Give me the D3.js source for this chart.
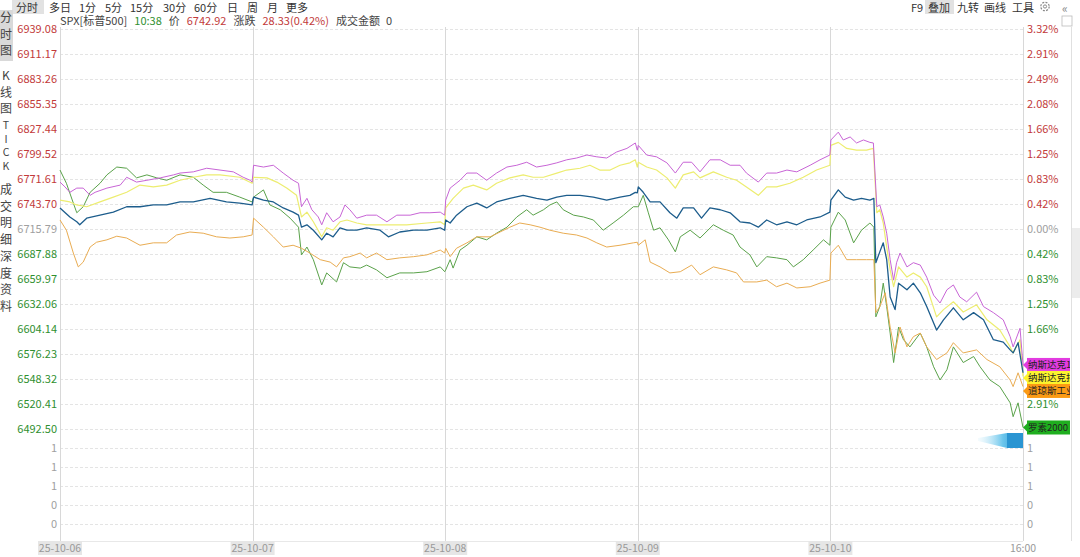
<!DOCTYPE html>
<html><head><meta charset="utf-8">
<script src="https://cdn.jsdelivr.net/npm/d3@7"></script>
<style>
html,body{margin:0;padding:0;background:#fff;}
svg{display:block;font-family:"Noto Sans CJK SC","Noto Sans",sans-serif;}
</style></head><body>
<svg id="c" width="1080" height="557"></svg>
<script>
// ---------- data ----------
const basePrice = 6715.79;
const priceTicks = [6939.08,6911.17,6883.26,6855.35,6827.44,6799.52,6771.61,6743.70,6715.79,6687.88,6659.97,6632.06,6604.14,6576.23,6548.32,6520.41,6492.50];
const pctTicks = ["3.32%","2.91%","2.49%","2.08%","1.66%","1.25%","0.83%","0.42%","0.00%","0.42%","0.83%","1.25%","1.66%","2.08%","2.49%","2.91%","3.32%"];
const volTicks = ["1","1","1","0","0"];
const dayLabels = ["25-10-06","25-10-07","25-10-08","25-10-09","25-10-10","16:00"];
const dayMinutes = [0,390,780,1170,1560,1950];
const periodTabs = ["分时","多日","1分","5分","15分","30分","60分","日","周","月","更多"];
const sideTabs = [["分","时","图"],["K","线","图"],["T","I","C","K"],["成","交","明","细"],["深","度","资","料"]];
const toolTabs = ["F9","叠加","九转","画线","工具"];
const infoTexts = ["SPX[标普500]","10:38","价","6742.92","涨跌","28.33(0.42%)","成交金额","0"];
const seriesNames = ["纳斯达克100","纳斯达克指数","标普500","罗素2000","道琼斯工业"];

// [minute since first open, % change]
const nasdaq100 = [[0,0.78],[10,0.70],[20,0.61],[34,0.68],[47,0.68],[61,0.56],[71,0.61],[95,0.68],[122,0.73],[135,0.86],[155,0.78],[176,0.81],[203,0.85],[230,0.90],[243,0.93],[270,0.95],[297,1.01],[324,0.98],[351,0.95],[371,0.86],[385,0.81],[389,0.78],
[392,1.06],[412,1.03],[432,1.06],[452,0.93],[472,0.81],[483,0.76],[489,0.37],[500,0.51],[510,0.32],[523,0.20],[530,0.07],[540,0.27],[553,0.12],[567,0.20],[577,0.40],[587,0.32],[601,0.18],[621,0.23],[641,0.23],[662,0.12],[682,0.23],[709,0.23],[729,0.27],[749,0.27],[770,0.28],[779,0.23],
[781,0.48],[790,0.68],[810,0.81],[824,0.93],[844,0.93],[864,0.81],[884,0.93],[905,1.03],[925,1.06],[945,1.11],[965,1.03],[986,1.06],[1006,1.10],[1026,1.15],[1046,1.18],[1067,1.23],[1087,1.20],[1107,1.18],[1127,1.28],[1148,1.34],[1165,1.43],[1169,1.31],
[1171,1.39],[1188,1.23],[1208,1.20],[1229,1.10],[1246,0.93],[1262,1.11],[1279,1.11],[1296,0.95],[1316,1.15],[1337,1.15],[1357,1.06],[1377,1.06],[1390,0.93],[1414,0.78],[1431,0.93],[1451,0.93],[1472,0.98],[1492,0.95],[1519,1.06],[1539,1.15],[1559,1.23],
[1561,1.48],[1576,1.61],[1586,1.48],[1600,1.53],[1613,1.43],[1627,1.48],[1640,1.44],[1647,1.43],[1650,0.98],[1654,0.37],[1660,0.40],[1667,0.20],[1674,-0.07],[1681,-0.51],[1688,-0.85],[1694,-0.56],[1701,-0.40],[1715,-0.63],[1728,-0.56],[1742,-0.60],[1755,-0.80],[1769,-1.10],[1782,-1.23],[1796,-1.01],[1809,-0.93],[1822,-1.13],[1836,-1.21],[1856,-1.05],[1870,-1.29],[1890,-1.39],[1910,-1.51],[1924,-1.79],[1930,-1.96],[1944,-1.65],[1950,-2.26]];

const nasdaqComp = [[0,0.48],[20,0.45],[34,0.40],[54,0.37],[81,0.45],[108,0.53],[135,0.61],[162,0.73],[189,0.70],[216,0.73],[243,0.81],[270,0.86],[297,0.90],[324,0.90],[364,0.86],[389,0.76],
[392,0.86],[419,0.85],[439,0.78],[459,0.68],[479,0.56],[489,0.20],[500,0.28],[513,0.12],[530,-0.13],[540,0.02],[553,-0.02],[567,0.12],[581,0.15],[601,0.10],[621,0.07],[648,0.07],[668,0.07],[702,0.07],[743,0.10],[770,0.12],[779,0.07],
[781,0.35],[796,0.51],[817,0.68],[837,0.73],[864,0.65],[884,0.76],[911,0.85],[938,0.90],[958,0.86],[979,0.86],[1006,0.93],[1026,0.98],[1053,1.01],[1073,1.06],[1093,0.98],[1114,0.98],[1134,1.06],[1154,1.10],[1165,1.15],[1169,1.03],
[1171,1.11],[1188,1.03],[1208,0.98],[1229,0.85],[1246,0.68],[1262,0.90],[1283,0.95],[1296,0.85],[1323,0.95],[1350,0.86],[1370,0.81],[1390,0.70],[1414,0.56],[1431,0.70],[1451,0.70],[1478,0.76],[1505,0.86],[1532,0.98],[1559,1.06],
[1561,1.39],[1576,1.44],[1593,1.34],[1613,1.31],[1633,1.31],[1647,1.34],[1650,0.86],[1654,0.27],[1660,0.32],[1667,0.10],[1674,-0.30],[1681,-0.68],[1688,-0.96],[1698,-0.63],[1715,-0.80],[1728,-0.73],[1742,-0.80],[1755,-0.96],[1775,-1.46],[1789,-1.34],[1809,-1.21],[1829,-1.38],[1856,-1.26],[1877,-1.51],[1903,-1.68],[1924,-1.96],[1930,-2.06],[1944,-1.84],[1950,-2.45]];

const spx = [[0,0.35],[20,0.20],[34,0.12],[40,0.07],[54,0.18],[81,0.23],[108,0.28],[135,0.37],[162,0.37],[189,0.40],[216,0.40],[243,0.45],[270,0.45],[304,0.51],[337,0.45],[364,0.43],[389,0.40],
[392,0.53],[412,0.48],[432,0.45],[452,0.35],[472,0.28],[483,0.23],[489,0.03],[500,0.07],[513,-0.02],[530,-0.18],[540,-0.07],[553,-0.13],[567,0.02],[581,-0.02],[601,-0.02],[621,0.02],[648,-0.02],[665,-0.13],[688,-0.05],[716,-0.02],[743,-0.02],[770,0.02],[779,-0.02],
[781,0.15],[790,0.10],[803,0.23],[824,0.37],[844,0.43],[864,0.35],[884,0.45],[911,0.51],[938,0.56],[965,0.51],[986,0.48],[1006,0.53],[1026,0.56],[1053,0.56],[1080,0.53],[1107,0.48],[1134,0.53],[1154,0.56],[1165,0.61],[1169,0.60],
[1171,0.70],[1181,0.61],[1195,0.45],[1215,0.45],[1235,0.27],[1249,0.18],[1262,0.35],[1283,0.35],[1299,0.18],[1316,0.35],[1337,0.32],[1357,0.27],[1377,0.12],[1397,0.10],[1414,0.03],[1431,0.15],[1451,0.07],[1472,0.12],[1492,0.07],[1512,0.15],[1539,0.20],[1559,0.28],
[1561,0.48],[1576,0.65],[1590,0.53],[1607,0.48],[1623,0.51],[1640,0.48],[1648,0.51],[1652,-0.56],[1660,-0.38],[1667,-0.23],[1674,-0.51],[1681,-1.13],[1691,-1.34],[1698,-0.90],[1715,-1.01],[1728,-0.90],[1742,-1.06],[1755,-1.29],[1775,-1.68],[1789,-1.51],[1809,-1.31],[1829,-1.51],[1850,-1.39],[1870,-1.51],[1890,-1.84],[1910,-1.88],[1924,-2.01],[1930,-2.06],[1940,-1.89],[1950,-2.39]];

const russell2000 = [[0,0.98],[13,0.76],[27,0.43],[34,0.27],[47,0.37],[61,0.61],[81,0.76],[95,0.90],[115,1.03],[135,1.01],[155,0.85],[176,0.90],[196,0.85],[216,0.81],[243,0.90],[270,0.86],[290,0.73],[310,0.61],[337,0.61],[364,0.53],[389,0.45],
[392,0.53],[412,0.65],[425,0.40],[446,0.32],[466,0.18],[483,0.03],[489,-0.43],[500,-0.30],[513,-0.51],[530,-0.93],[540,-0.73],[560,-0.88],[574,-0.56],[587,-0.63],[608,-0.65],[621,-0.60],[641,-0.68],[662,-0.81],[688,-0.73],[716,-0.73],[743,-0.71],[770,-0.63],[779,-0.71],
[781,-0.68],[790,-0.51],[796,-0.65],[810,-0.35],[824,-0.27],[844,-0.13],[864,-0.18],[884,-0.07],[905,0.03],[925,0.20],[945,0.32],[958,0.23],[979,0.32],[992,0.40],[1006,0.45],[1019,0.32],[1040,0.23],[1060,0.20],[1080,0.15],[1100,-0.02],[1120,0.10],[1141,0.23],[1161,0.37],[1169,0.37],
[1171,0.37],[1181,0.56],[1191,0.28],[1202,-0.02],[1215,0.02],[1232,-0.18],[1246,-0.38],[1256,-0.13],[1276,-0.02],[1296,-0.15],[1323,0.07],[1343,-0.02],[1363,-0.10],[1377,-0.30],[1397,-0.43],[1411,-0.63],[1431,-0.46],[1451,-0.48],[1472,-0.51],[1485,-0.63],[1505,-0.51],[1525,-0.35],[1546,-0.18],[1559,-0.27],
[1561,0.03],[1576,0.28],[1590,0.15],[1607,-0.23],[1623,-0.02],[1640,0.10],[1648,0.03],[1652,-1.46],[1660,-1.29],[1667,-0.90],[1674,-1.29],[1681,-1.73],[1688,-2.22],[1698,-1.63],[1708,-1.84],[1721,-1.96],[1742,-1.73],[1755,-1.96],[1769,-2.29],[1782,-2.51],[1796,-2.34],[1809,-1.96],[1829,-2.22],[1850,-2.12],[1863,-2.29],[1883,-2.51],[1903,-2.62],[1924,-2.89],[1930,-3.12],[1940,-2.89],[1950,-3.30]];

const dowJones = [[0,0.15],[13,-0.02],[27,-0.40],[37,-0.63],[47,-0.55],[61,-0.30],[74,-0.22],[95,-0.18],[115,-0.12],[135,-0.15],[162,-0.27],[189,-0.23],[216,-0.23],[236,-0.10],[263,-0.05],[290,-0.07],[317,-0.13],[344,-0.15],[371,-0.13],[389,-0.10],
[392,0.18],[412,0.03],[432,-0.13],[452,-0.30],[472,-0.27],[489,-0.32],[506,-0.40],[527,-0.51],[547,-0.55],[560,-0.63],[574,-0.48],[587,-0.46],[608,-0.40],[621,-0.48],[641,-0.40],[662,-0.51],[688,-0.48],[716,-0.46],[743,-0.43],[770,-0.35],[779,-0.40],
[781,-0.32],[790,-0.46],[803,-0.32],[824,-0.23],[844,-0.13],[871,-0.13],[891,-0.05],[911,0.03],[931,0.10],[952,0.07],[972,0.03],[992,-0.02],[1019,-0.07],[1046,-0.10],[1067,-0.15],[1087,-0.23],[1107,-0.30],[1134,-0.27],[1161,-0.23],[1169,-0.22],
[1171,-0.27],[1185,-0.18],[1195,-0.55],[1215,-0.63],[1235,-0.73],[1256,-0.71],[1279,-0.60],[1296,-0.76],[1323,-0.63],[1350,-0.68],[1370,-0.73],[1384,-0.88],[1411,-0.88],[1431,-0.85],[1451,-0.96],[1472,-0.90],[1492,-0.98],[1519,-0.96],[1539,-0.90],[1559,-0.85],
[1561,-0.40],[1576,-0.27],[1593,-0.51],[1613,-0.51],[1633,-0.51],[1648,-0.51],[1652,-1.39],[1660,-1.29],[1671,-1.06],[1681,-1.63],[1691,-2.06],[1701,-1.63],[1715,-1.96],[1728,-1.79],[1742,-1.73],[1755,-1.96],[1775,-2.17],[1796,-2.06],[1809,-1.89],[1829,-2.06],[1856,-2.01],[1877,-2.17],[1903,-2.29],[1924,-2.51],[1930,-2.62],[1940,-2.39],[1950,-2.62]];

// ---------- drawing ----------
const svg = d3.select("#c");
const x = d3.scaleLinear().domain([0,1950]).range([60,1023]);
const pctOf = p => (p/basePrice - 1)*100;
const y = d3.scaleLinear().domain([pctOf(priceTicks[16]), pctOf(priceTicks[0])]).range([429,29]);
const yVol = d3.scaleLinear().domain([0,4]).range([448,524]);
const RED="#c23a3a", GREEN="#2f8f2f", GRAY="#a0a0a0";

// top toolbar
svg.append("rect").attr("x",12).attr("y",0).attr("width",32).attr("height",14).attr("fill","#e2e2e2");
const tabX = [16,49,79,105,130,163,194,227,247,267,286];
svg.selectAll("text.tab").data(periodTabs).join("text").attr("class","tab")
  .attr("x",(d,i)=>tabX[i]).attr("y",11.5).attr("font-size",11).attr("fill","#333").text(d=>d);

svg.append("rect").attr("x",925).attr("y",0).attr("width",29).attr("height",14).attr("fill","#e2e2e2");
const toolX = [911,928,957,984,1012];
svg.selectAll("text.tool").data(toolTabs).join("text").attr("class","tool")
  .attr("x",(d,i)=>toolX[i]).attr("y",11.5).attr("font-size",11).attr("fill","#333").text(d=>d);
// gear
const gear = svg.append("g").attr("transform","translate(1045,6.5)");
gear.append("circle").attr("r",4.2).attr("fill","none").attr("stroke","#888").attr("stroke-width",1.2).attr("stroke-dasharray","2,1.3");
gear.append("circle").attr("r",1.6).attr("fill","none").attr("stroke","#888").attr("stroke-width",1);
svg.append("text").attr("x",1062).attr("y",12.5).attr("font-size",12).attr("fill","#888").text("«");
svg.append("rect").attr("x",1062).attr("y",16).attr("width",10).attr("height",10).attr("fill","none").attr("stroke","#bbb").attr("stroke-width",0.8);

// info line: laid out left to right by measured widths
const infoC = ["#444",GREEN,"#444",RED,"#444",RED,"#444","#444"];
let ix = 60;
infoTexts.forEach((t,i)=>{
  const el = svg.append("text").attr("x",ix).attr("y",25).attr("font-size",11).attr("fill",infoC[i]).text(t);
  ix += el.node().getComputedTextLength() + (i===6?6:7);
});

// side tabs
svg.append("rect").attr("x",0).attr("y",10).attr("width",13).attr("height",51).attr("fill","#d9d9d9");
const sideStart = [22,80,129,194,261];
sideTabs.forEach((chars,g)=>{
  chars.forEach((c,i)=>{
    svg.append("text").attr("x",6).attr("y",sideStart[g]+i*(g===2?13.7:16.7)).attr("text-anchor","middle")
      .attr("font-size",g===2?10.5:12).attr("fill","#444").text(c);
  });
});

// gridlines
const grid = svg.append("g");
priceTicks.forEach(p=>{
  grid.append("line").attr("x1",60).attr("x2",1023).attr("y1",Math.round(y(pctOf(p)))+0.5).attr("y2",Math.round(y(pctOf(p)))+0.5)
    .attr("stroke","#e4e4e4").attr("stroke-dasharray","3,2");
});
volTicks.forEach((v,i)=>{
  grid.append("line").attr("x1",60).attr("x2",1023).attr("y1",Math.round(yVol(i))+0.5).attr("y2",Math.round(yVol(i))+0.5)
    .attr("stroke","#e4e4e4").attr("stroke-dasharray","3,2");
});
grid.append("line").attr("x1",60).attr("x2",1023).attr("y1",541.5).attr("y2",541.5).attr("stroke","#e8e8e8");
dayMinutes.forEach(m=>{
  grid.append("line").attr("x1",Math.round(x(m))+0.5).attr("x2",Math.round(x(m))+0.5).attr("y1",27).attr("y2",541)
    .attr("stroke","#d8d8d8");
});
svg.append("line").attr("x1",1071.5).attr("x2",1071.5).attr("y1",27).attr("y2",541).attr("stroke","#e0e0e0");
svg.append("rect").attr("x",1072).attr("y",228).attr("width",8).attr("height",70).attr("fill","#ececec");

// left axis labels
svg.selectAll("text.lp").data(priceTicks).join("text").attr("class","lp")
  .attr("x",57).attr("y",p=>y(pctOf(p))+4).attr("text-anchor","end").attr("font-size",11)
  .attr("fill",(p,i)=>i<8?RED:(i===8?GRAY:GREEN)).text(p=>p.toFixed(2));
svg.selectAll("text.lv").data(volTicks).join("text").attr("class","lv")
  .attr("x",57).attr("y",(d,i)=>yVol(i)+4).attr("text-anchor","end").attr("font-size",11).attr("fill",GRAY).text(d=>d);

// series
const series = [
  {name:seriesNames[0], data:nasdaq100, color:"#c865d6", w:1, box:"#e23be0"},
  {name:seriesNames[1], data:nasdaqComp, color:"#eded70", w:1.2, box:"#fdf52e"},
  {name:seriesNames[4], data:dowJones, color:"#e9ac52", w:1, box:"#fb9a14"},
  {name:seriesNames[3], data:russell2000, color:"#5aa24a", w:1, box:"#1fae1f"},
  {name:seriesNames[2], data:spx, color:"#1d5d8c", w:1.3, box:null},
];

// end label positions (collision avoidance)
const labeled = series.filter(s=>s.box).map(s=>({s, ly:y(s.data[s.data.length-1][1])}));
labeled.sort((a,b)=>a.ly-b.ly);
for(let i=1;i<labeled.length;i++){ if(labeled[i].ly < labeled[i-1].ly+13) labeled[i].ly = labeled[i-1].ly+13; }
const covered = ty => labeled.some(l=>Math.abs(l.ly-ty)<12);

// right axis labels (those hidden under the end tags are not shown)
pctTicks.forEach((d,i)=>{
  const ty = y(pctOf(priceTicks[i]));
  if(covered(ty)) return;
  svg.append("text").attr("x",1027).attr("y",ty+4).attr("font-size",11)
    .attr("fill",i<8?RED:(i===8?GRAY:GREEN)).text(d);
});
svg.selectAll("text.rv").data(volTicks).join("text").attr("class","rv")
  .attr("x",1027).attr("y",(d,i)=>yVol(i)+4).attr("font-size",11).attr("fill",GRAY).text(d=>d);

// x labels
dayLabels.forEach((d,i)=>{
  const cx = x(dayMinutes[i]);
  if(i<5) svg.append("rect").attr("x",cx-22).attr("y",541).attr("width",44).attr("height",14).attr("fill","#e6e6e6");
  svg.append("text").attr("x",cx).attr("y",552).attr("text-anchor","middle").attr("font-size",10.5).attr("fill","#999").text(d);
});

const line = d3.line().x(d=>x(d[0])).y(d=>y(d[1]));
const lg = svg.append("g");
[series[3],series[2],series[1],series[0],series[4]].forEach(s=>{
  lg.append("path").attr("d",line(s.data)).attr("fill","none").attr("stroke",s.color).attr("stroke-width",s.w).attr("stroke-linejoin","round");
});

// cursor marker
const defs = svg.append("defs");
const gr = defs.append("linearGradient").attr("id","cg").attr("x1","0").attr("x2","1");
gr.append("stop").attr("offset","0").attr("stop-color","#cfeefa").attr("stop-opacity",0.2);
gr.append("stop").attr("offset","0.55").attr("stop-color","#6cc6ec");
gr.append("stop").attr("offset","1").attr("stop-color","#1e8fd0");
svg.append("path").attr("d","M978,438 L1007,433 L1023,433 L1023,448 L1007,448 L978,441 Z").attr("fill","url(#cg)");
svg.append("rect").attr("x",1007).attr("y",433).attr("width",16).attr("height",15).attr("fill","#2a95d2");

// end tags (names clipped to the tag width, as in the terminal)
labeled.forEach((l,i)=>{
  defs.append("clipPath").attr("id","lc"+i).append("rect").attr("x",1027).attr("y",l.ly-7).attr("width",43).attr("height",14);
  svg.append("rect").attr("x",1027).attr("y",l.ly-7).attr("width",43).attr("height",14).attr("fill",l.s.box);
  svg.append("path").attr("d",`M1023,${l.ly} L1027,${l.ly-4} L1027,${l.ly+4} Z`).attr("fill",l.s.box);
  svg.append("text").attr("clip-path",`url(#lc${i})`).attr("x",1028).attr("y",l.ly+3.5).attr("font-size",9.5).attr("fill","#222").text(l.s.name);
});
</script>
</body></html>
